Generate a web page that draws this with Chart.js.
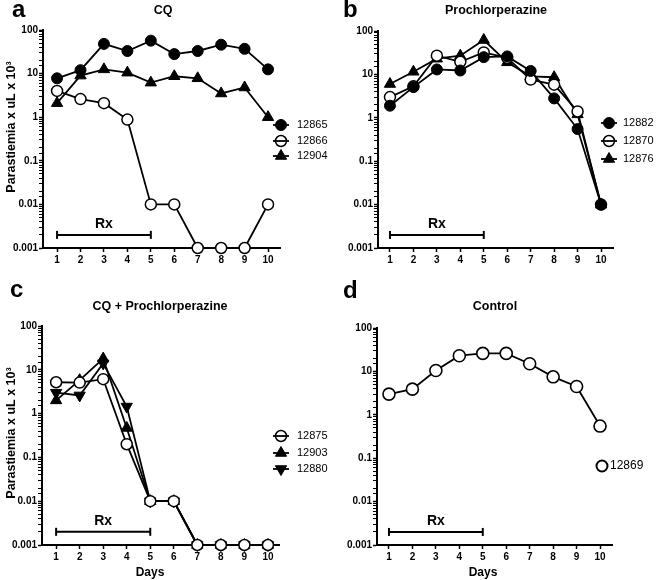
<!DOCTYPE html>
<html>
<head>
<meta charset="utf-8">
<script src="https://cdn.jsdelivr.net/npm/chart.js@4.4.0/dist/chart.umd.min.js"></script>
<style>
  body { margin: 0; background: #fff; }
  #wrap { position: relative; width: 660px; height: 580px; background: #fff; }
  #wrap canvas { position: absolute; }
</style>
</head>
<body>
<div id="wrap">
  <canvas id="pa" width="330" height="275" style="left:0;top:0"></canvas>
  <canvas id="pb" width="330" height="275" style="left:330px;top:0"></canvas>
  <canvas id="pc" width="330" height="305" style="left:0;top:275px"></canvas>
  <canvas id="pd" width="330" height="305" style="left:330px;top:275px"></canvas>
</div>
<script>
// days of follow-up and treatment window
const days = [1, 2, 3, 4, 5, 6, 7, 8, 9, 10];
const rxDays = [1, 5];
const rxLevel = 0.002;

// a: CQ
const cq12865 = [7.8, 12, 48, 33, 57, 28, 33, 46, 37, 12.5];
const cq12866 = [4.0, 2.6, 2.1, 0.88, 0.01, 0.01, 0.001, 0.001, 0.001, 0.01];
const cq12904 = [2.1, 9, 12.5, 10.5, 6.2, 8.7, 7.8, 3.5, 4.8, 1.0];

// b: Prochlorperazine
const pr12882 = [1.9, 5.1, 13, 12.3, 25, 26, 12, 2.8, 0.55, 0.01];
const pr12870 = [3.0, 5.3, 27, 19.5, 32, 24, 7.6, 5.8, 1.4, 0.01];
const pr12876 = [6.0, 11.5, 23, 27, 62, 19, 9, 8.6, 1.2, 0.01];

// c: CQ + Prochlorperazine
const co12875 = [5.2, 5.1, 6.1, 0.2, 0.01, 0.01, 0.001, 0.001, 0.001, 0.001];
const co12903 = [2.0, 5.8, 18, 0.47, 0.01, 0.01, 0.001, 0.001, 0.001, 0.001];
const co12880 = [3.0, 2.6, 14, 1.45, 0.01, 0.01, 0.001, 0.001, 0.001, 0.001];

// d: Control
const ct12869 = [3.0, 3.9, 10.5, 23, 26, 26, 15, 7.5, 4.5, 0.55];

const FONT = "'Liberation Sans', Arial, Helvetica, sans-serif";
Chart.defaults.font.family = FONT;
Chart.defaults.color = '#000';

const markers = {
  filled: { pointStyle: 'circle', radius: 5.5, fill: '#000', border: 1, rotation: 0 },
  open: { pointStyle: 'circle', radius: 5.5, fill: '#fff', border: 1.5, rotation: 0 },
  openBig: { pointStyle: 'circle', radius: 6, fill: '#fff', border: 1.6, rotation: 0 },
  up: { pointStyle: 'triangle', radius: 6.5, fill: '#000', border: 1, rotation: 0 },
  down: { pointStyle: 'triangle', radius: 6.5, fill: '#000', border: 1, rotation: 180 },
};

function series(label, values, m) {
  return {
    label,
    data: days.map((d, i) => ({ x: d, y: values[i] })),
    borderColor: '#000',
    borderWidth: 1.8,
    tension: 0,
    fill: false,
    clip: false,
    pointStyle: m.pointStyle,
    pointRotation: m.rotation,
    pointRadius: m.radius,
    pointHoverRadius: m.radius,
    pointBackgroundColor: m.fill,
    pointBorderColor: '#000',
    pointBorderWidth: m.border,
    marker: m,
  };
}

function rxSet() {
  return {
    label: 'Rx',
    data: rxDays.map(d => ({ x: d, y: rxLevel })),
    borderColor: '#000',
    borderWidth: 2,
    clip: false,
    pointStyle: 'line',
    pointRotation: 90,
    pointRadius: 4,
    pointBorderWidth: 2,
    pointBorderColor: '#000',
    pointBackgroundColor: '#000',
  };
}

const isDecade = v => Math.abs(Math.log10(v) - Math.round(Math.log10(v))) < 1e-6;

// titles, panel letters, Rx label and the legends
const decor = {
  id: 'decor',
  afterDraw(chart, args, o) {
    const ctx = chart.ctx;
    const [ox, oy] = o.origin;
    const xs = chart.scales.x, ys = chart.scales.y;
    ctx.save();
    ctx.fillStyle = '#000';

    ctx.font = `bold 24px ${FONT}`;
    ctx.textAlign = 'left';
    ctx.textBaseline = 'alphabetic';
    ctx.fillText(o.letter, o.letterAt[0] - ox, o.letterAt[1] - oy);

    ctx.font = `bold 12.5px ${FONT}`;
    ctx.textAlign = 'center';
    ctx.textBaseline = 'middle';
    ctx.fillText(o.title, o.titleAt[0] - ox, o.titleAt[1] - oy);

    ctx.font = `bold 14px ${FONT}`;
    ctx.fillText('Rx', xs.getPixelForValue((rxDays[0] + rxDays[1]) / 2), ys.getPixelForValue(rxLevel) - 11);

    if (o.xTitleAt) {
      ctx.font = `bold 12px ${FONT}`;
      ctx.fillText('Days', o.xTitleAt[0] - ox, o.xTitleAt[1] - oy);
    }
    if (o.yTitleAt) {
      ctx.save();
      ctx.translate(o.yTitleAt[0] - ox, o.yTitleAt[1] - oy);
      ctx.rotate(-Math.PI / 2);
      ctx.font = `bold 12.5px ${FONT}`;
      ctx.fillText('Parastiemia x uL x 10\u00B3', 0, 0);
      ctx.restore();
    }

    const lg = o.legend;
    chart.data.datasets.forEach((ds, i) => {
      if (!ds.marker) return;
      const mx = lg.markerX - ox, my = lg.ys[i] - oy;
      const m = ds.marker;
      ctx.fillStyle = m.fill;
      ctx.strokeStyle = '#000';
      ctx.lineWidth = lg.line ? m.border : 2;
      Chart.helpers.drawPoint(ctx, {
        pointStyle: m.pointStyle, rotation: m.rotation, radius: lg.line ? m.radius : 5.5,
        borderWidth: lg.line ? m.border : 2,
      }, mx, my);
      if (lg.line) {
        ctx.lineWidth = 1.8;
        ctx.beginPath();
        ctx.moveTo(mx - 8, my);
        ctx.lineTo(mx + 8, my);
        ctx.stroke();
      }
      ctx.fillStyle = '#000';
      ctx.font = `${lg.size}px ${FONT}`;
      ctx.textAlign = 'left';
      ctx.textBaseline = 'middle';
      ctx.fillText(ds.label, lg.textX - ox, my);
    });
    ctx.restore();
  }
};

function makePanel(id, origin, size, box, datasets, decorOpts) {
  const [ox, oy] = origin;
  const [w, h] = size;
  const yW = 40, xH = 24;
  return new Chart(document.getElementById(id), {
    type: 'line',
    data: { datasets: [...datasets, rxSet()] },
    options: {
      responsive: false,
      animation: false,
      events: [],
      layout: {
        padding: {
          left: box.left - ox - yW,
          top: box.top - oy,
          right: ox + w - box.right,
          bottom: oy + h - box.bottom - xH,
        }
      },
      plugins: {
        legend: { display: false },
        tooltip: { enabled: false },
        decor: Object.assign({ origin }, decorOpts),
      },
      scales: {
        x: {
          type: 'linear',
          min: box.xMin,
          max: box.xMax,
          afterBuildTicks: s => { s.ticks = days.map(v => ({ value: v })); },
          afterFit: s => { s.height = xH; },
          border: { color: '#000', width: 2 },
          grid: { drawOnChartArea: false, drawTicks: true, tickLength: 4, tickColor: '#000', tickWidth: 1.5 },
          ticks: { autoSkip: false, maxRotation: 0, padding: 2, color: '#000', font: { size: 10, weight: 'bold' } },
        },
        y: {
          type: 'logarithmic',
          min: 0.001,
          max: 100,
          afterFit: s => { s.width = yW; },
          border: { color: '#000', width: 2 },
          grid: {
            drawOnChartArea: false, drawTicks: true, tickLength: 4, tickColor: '#000',
            tickWidth: c => (c.tick && isDecade(c.tick.value)) ? 1.5 : 1,
          },
          ticks: {
            autoSkip: false, padding: 1, color: '#000', font: { size: 10, weight: 'bold' },
            callback: v => isDecade(v) ? String(+Number(v).toPrecision(1)) : '',
          },
        },
      },
    },
    plugins: [decor],
  });
}

makePanel('pa', [0, 0], [330, 275],
  { left: 43, right: 280, top: 30, bottom: 248, xMin: 0.40, xMax: 10.51 },
  [series('12865', cq12865, markers.filled), series('12866', cq12866, markers.open), series('12904', cq12904, markers.up)],
  { letter: 'a', letterAt: [12, 17], title: 'CQ', titleAt: [163, 11], yTitleAt: [12, 127],
    legend: { markerX: 281, textX: 297, ys: [125, 141, 156], line: true, size: 11 } });

makePanel('pb', [330, 0], [330, 275],
  { left: 378, right: 613, top: 31, bottom: 248, xMin: 0.49, xMax: 10.51 },
  [series('12882', pr12882, markers.filled), series('12870', pr12870, markers.open), series('12876', pr12876, markers.up)],
  { letter: 'b', letterAt: [343, 17], title: 'Prochlorperazine', titleAt: [496, 11],
    legend: { markerX: 609, textX: 623, ys: [123, 141, 159], line: true, size: 11 } });

makePanel('pc', [0, 275], [330, 305],
  { left: 42, right: 279, top: 326, bottom: 545, xMin: 0.40, xMax: 10.47 },
  [series('12875', co12875, markers.open), series('12903', co12903, markers.up), series('12880', co12880, markers.down)],
  { letter: 'c', letterAt: [10, 297], title: 'CQ + Prochlorperazine', titleAt: [160, 307], yTitleAt: [12, 433],
    xTitleAt: [150, 573],
    legend: { markerX: 281, textX: 297, ys: [436, 453, 469], line: true, size: 11 } });

makePanel('pd', [330, 275], [330, 305],
  { left: 377, right: 612, top: 328, bottom: 545, xMin: 0.49, xMax: 10.51 },
  [series('12869', ct12869, markers.openBig)],
  { letter: 'd', letterAt: [343, 298], title: 'Control', titleAt: [495, 307],
    xTitleAt: [483, 573],
    legend: { markerX: 602, textX: 610, ys: [466], line: false, size: 12 } });
</script>
</body>
</html>
